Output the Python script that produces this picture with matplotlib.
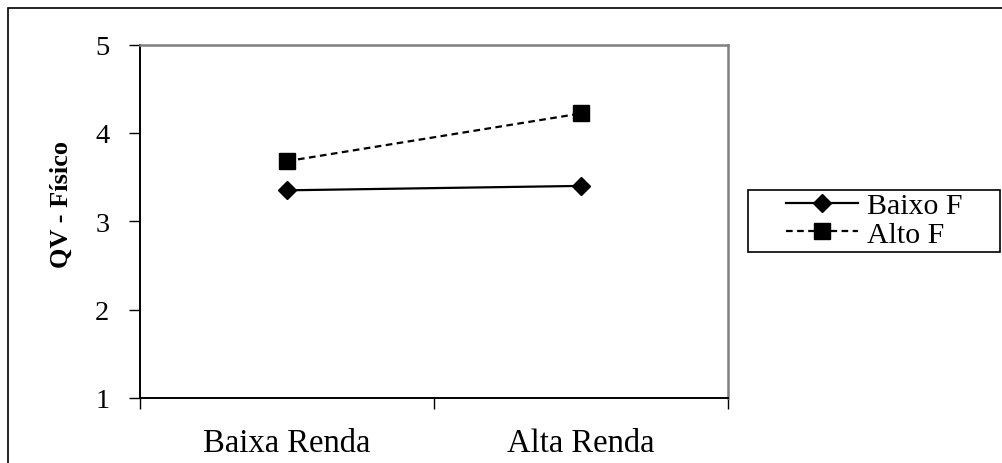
import numpy as np
from matplotlib import pyplot as plt
from matplotlib.patches import Rectangle

plt.rcParams['font.family'] = ['Liberation Serif', 'DejaVu Serif']

categories = ['Baixa Renda', 'Alta Renda']
baixo_f = [3.35, 3.40]
alto_f = [3.68, 4.22]
y_ticks = [1, 2, 3, 4, 5]

x = np.arange(len(categories)) + 0.5

W, H = 1002, 464
fig = plt.figure(figsize=(W / 100, H / 100), dpi=100)
ax = fig.add_axes([140 / W, 1 - 399 / H, 588 / W, 353.5 / H])

ax.plot(x, baixo_f, color='black', lw=1.6, marker='D', markersize=9, label='Baixo F')
ax.plot(x, alto_f, color='black', lw=1.6, linestyle=(0, (3, 2)), marker='s',
        markersize=11, label='Alto F')

ax.set_xlim(0, 2)
ax.set_ylim(1, 5)
ax.set_yticks(y_ticks)
ax.set_xticks([0, 1, 2])
ax.set_xticklabels([])
ax.set_xticks(x, minor=True)
ax.set_xticklabels(categories, minor=True, fontsize=23.5)
ax.tick_params(axis='x', which='minor', length=0, pad=21)
ax.tick_params(axis='x', which='major', length=8, width=1, color='black', direction='out')
ax.tick_params(axis='y', length=8, width=1, direction='out', labelsize=20.5, pad=14)

for s in ['top', 'right']:
    ax.spines[s].set_color('#808080')
    ax.spines[s].set_linewidth(1.8)
for s in ['left', 'bottom']:
    ax.spines[s].set_color('black')
    ax.spines[s].set_linewidth(1.4)

ax.set_ylabel('QV - Físico', fontsize=19, fontweight='bold')
ax.yaxis.set_label_coords(73 / W, 1 - 205 / H, transform=fig.transFigure)

# legend box drawn separately, entries placed inside it
fig.patches.append(Rectangle((748 / W, 1 - 253 / H), 252 / W, 62 / H, transform=fig.transFigure,
                             fill=False, edgecolor='black', linewidth=1.2))
leg = fig.legend(loc='center left', bbox_to_anchor=(786 / W, 1 - 221 / H),
                 fontsize=21.5, frameon=False, handlelength=2.4, handletextpad=0.3,
                 borderaxespad=0, borderpad=0, labelspacing=0.05)

# outer frame
fig.patches.append(Rectangle((8 / W, -0.01), 1.02, 1.01 - 9 / H, transform=fig.transFigure,
                             fill=False, edgecolor='black', linewidth=1.2))

plt.savefig('out.png', dpi=100)
